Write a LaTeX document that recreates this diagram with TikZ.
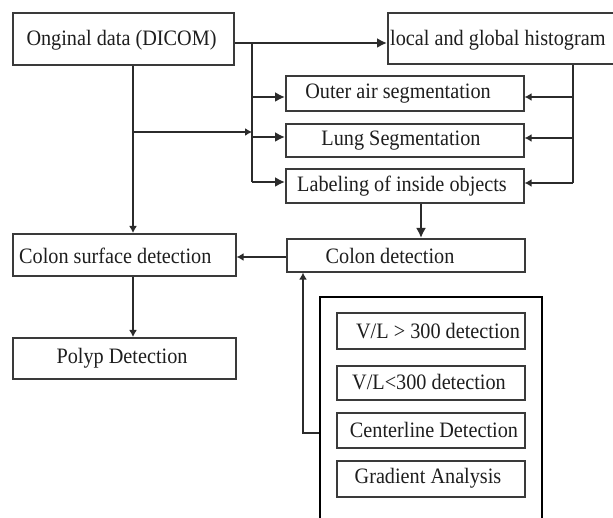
\documentclass[tikz,border=0pt]{standalone}
\usepackage{fontspec}
\setmainfont{Liberation Serif}[FakeStretch=0.92]
\usetikzlibrary{arrows.meta}
\definecolor{linec}{HTML}{2B2B2B}
\definecolor{boxc}{HTML}{3A3A3A}
\definecolor{txtc}{HTML}{1E1E1E}
\tikzset{
  x=1pt, y=-1pt,
  boxnode/.style={draw=boxc, line width=1.6pt, inner sep=0pt, anchor=north west},
  bigbox/.style={draw=black, line width=2.4pt, inner sep=0pt, anchor=north west},
  lbl/.style={text=txtc, font=\fontsize{22}{26}\selectfont, inner sep=0pt},
  conn/.style={draw=linec, line width=2.6pt},
  bigarrow/.style={conn, -{Latex[length=10pt,width=10pt]}},
  smallarrow/.style={conn, -{Latex[length=7pt,width=8pt]}},
}
\begin{document}
\begin{tikzpicture}
\useasboundingbox (0,0) rectangle (613,518);
\clip (0,0) rectangle (613,518);
\fill[white] (0,0) rectangle (613,518);

% boxes
\node[boxnode, minimum width=221pt, minimum height=52pt] (orig) at (12,12) {};
\node[boxnode, minimum width=240pt, minimum height=51pt] (hist) at (387,12) {};
\node[boxnode, minimum width=238pt, minimum height=35pt] (oair) at (285,75) {};
\node[boxnode, minimum width=238pt, minimum height=33pt] (lung) at (285,123) {};
\node[boxnode, minimum width=238pt, minimum height=34pt] (labl) at (285,168) {};
\node[boxnode, minimum width=223pt, minimum height=42pt] (csurf) at (12,233) {};
\node[boxnode, minimum width=238pt, minimum height=33pt] (cdet) at (286,238) {};
\node[boxnode, minimum width=223pt, minimum height=41pt] (polyp) at (12,337) {};
\node[bigbox, minimum width=222pt, minimum height=222pt] (big) at (319,296) {};
\node[boxnode, minimum width=188pt, minimum height=36pt] (vla) at (336,312) {};
\node[boxnode, minimum width=188pt, minimum height=34pt] (vlb) at (336,365) {};
\node[boxnode, minimum width=188pt, minimum height=35pt] (cline) at (336,412) {};
\node[boxnode, minimum width=188pt, minimum height=36pt] (grad) at (336,460) {};

% texts
\node[lbl] (torig) at (121.5,40) {Onginal data (DICOM)};
\node[lbl, anchor=west] (thist) at (390,40) {local and global histogram};
\node[lbl] (toair) at (398,94) {Outer air segmentation};
\node[lbl] (tlung) at (401,141) {Lung Segmentation};
\node[lbl] (tlabl) at (402,186) {Labeling of inside objects};
\node[lbl, anchor=west] (tcsurf) at (19,256) {Colon surface detection};
\node[lbl] (tcdet) at (390,256) {Colon detection};
\node[lbl] (tpolyp) at (122,358) {Polyp Detection};
\node[lbl] (tvla) at (438,331) {V/L > 300 detection};
\node[lbl] (tvlb) at (429,382) {V/L<300 detection};
\node[lbl] (tcline) at (434,430) {Centerline Detection};
\node[lbl] (tgrad) at (428,478) {Gradient Analysis};

% junction coordinates
\coordinate (j1) at (252,43);
\coordinate (j2) at (252,97);
\coordinate (j3) at (252,137);
\coordinate (j4) at (252,182);
\coordinate (jb) at (252,132);
\coordinate (l1) at (133,132);
\coordinate (r1) at (573,97);
\coordinate (r2) at (573,138);
\coordinate (r3) at (573,183);
\coordinate (fb) at (303,433);

% top: original -> histogram
\draw[bigarrow] (orig.east |- j1) -- (hist.west |- j1);
\draw[conn] (j1) -- (j4);
\draw[bigarrow] (j2) -- (oair.west |- j2);
\draw[bigarrow] (j3) -- (lung.west |- j3);
\draw[bigarrow] (j4) -- (labl.west |- j4);

% right side from histogram
\draw[conn] (hist.south -| r1) -- (r3);
\draw[smallarrow] (r1) -- (oair.east |- r1);
\draw[smallarrow] (r2) -- (lung.east |- r2);
\draw[smallarrow] (r3) -- (labl.east |- r3);

% left column
\draw[smallarrow] (orig.south -| l1) -- (csurf.north -| l1);
\draw[smallarrow] (l1) -- (jb);
\draw[smallarrow] (csurf.south -| l1) -- (polyp.north -| l1);

% labeling -> colon detection
\draw[bigarrow] (labl.south -| 421,0) -- (cdet.north -| 421,0);
% colon detection -> colon surface
\draw[smallarrow] (cdet.west |- 0,257) -- (csurf.east |- 0,257);
% feedback from detail box
\draw[smallarrow] (big.west |- fb) -- (fb) -- (cdet.south -| fb);
\end{tikzpicture}
\end{document}
